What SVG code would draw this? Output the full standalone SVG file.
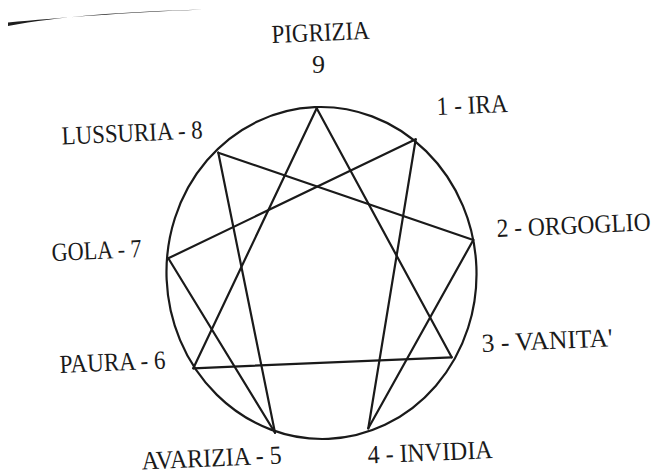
<svg xmlns="http://www.w3.org/2000/svg" width="661" height="474" viewBox="0 0 661 474">
<style>
.lbl{font-family:"Liberation Serif","Times New Roman",serif;font-size:26px;fill:#1a1a1a}
.ln{stroke:#1a1a1a;stroke-width:2.2;fill:none;stroke-linecap:round}
</style>
<rect width="661" height="474" fill="#ffffff"/>
<path d="M8 22.6 C60 17.8 120 13 203 9.6 C120 11.8 60 16.6 8 26 Z" fill="#1e1e1e"/>
<ellipse id="circle" cx="321.5" cy="273" rx="155" ry="166" transform="rotate(-2.4 321.5 273)" class="ln"/>
<g id="connectors" class="ln">
<line x1="316.7" y1="108.3" x2="451.7" y2="357.3"/>
<line x1="316.7" y1="108.3" x2="193.3" y2="368.3"/>
<line x1="193.3" y1="368.3" x2="451.7" y2="357.3"/>
<line x1="415.7" y1="139.3" x2="368.3" y2="428.3"/>
<line x1="368.3" y1="428.3" x2="473.3" y2="240"/>
<line x1="473.3" y1="240" x2="218.3" y2="152.7"/>
<line x1="218.3" y1="152.7" x2="275" y2="432.7"/>
<line x1="275" y1="432.7" x2="168.3" y2="258.3"/>
<line x1="168.3" y1="258.3" x2="415.7" y2="139.3"/>
</g>
<g id="n9"><text class="lbl" x="272" y="43" textLength="98" lengthAdjust="spacingAndGlyphs" transform="rotate(-2.5 272 43)">PIGRIZIA</text>
<text class="lbl" x="312" y="73">9</text></g>
<g id="n8"><text class="lbl" x="62" y="144.5" textLength="141" lengthAdjust="spacingAndGlyphs" transform="rotate(-2.5 62 144.5)">LUSSURIA - 8</text></g>
<g id="n1"><text class="lbl" x="437" y="115" textLength="71" lengthAdjust="spacingAndGlyphs" transform="rotate(-2.5 437 115)">1 - IRA</text></g>
<g id="n7"><text class="lbl" x="52" y="261" textLength="90" lengthAdjust="spacingAndGlyphs" transform="rotate(-2.5 52 261)">GOLA - 7</text></g>
<g id="n2"><text class="lbl" x="497" y="237" font-size="22.5" textLength="154" lengthAdjust="spacingAndGlyphs" transform="rotate(-2.5 497 237)">2 - ORGOGLIO</text></g>
<g id="n6"><text class="lbl" x="60" y="373" textLength="106" lengthAdjust="spacingAndGlyphs" transform="rotate(-2.5 60 373)">PAURA - 6</text></g>
<g id="n3"><text class="lbl" x="482" y="352" textLength="131" lengthAdjust="spacingAndGlyphs" transform="rotate(-2.5 482 352)">3 - VANITA'</text></g>
<g id="n5"><text class="lbl" x="142" y="469.5" textLength="140" lengthAdjust="spacingAndGlyphs" transform="rotate(-2.5 142 469.5)">AVARIZIA - 5</text></g>
<g id="n4"><text class="lbl" x="368" y="463.5" textLength="125" lengthAdjust="spacingAndGlyphs" transform="rotate(-2.5 368 463.5)">4 - INVIDIA</text></g>
</svg>
